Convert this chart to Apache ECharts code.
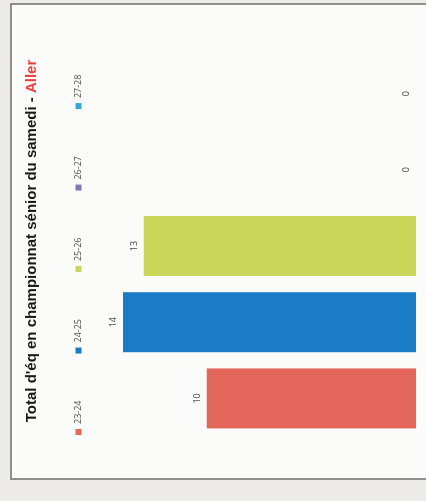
<!DOCTYPE html>
<html>
<head>
<meta charset="utf-8">
<script src="https://cdn.jsdelivr.net/npm/echarts@6/dist/echarts.min.js"></script>
<style>
html,body{margin:0;padding:0;width:426px;height:501px;overflow:hidden;background:#ecebe7;}
#frame{position:absolute;left:10px;top:3px;width:470px;height:473px;border:2px solid #8e8e8c;background:#fbfbf9;}
#chart{position:absolute;left:0;top:0;width:474px;height:440px;transform-origin:0 0;transform:translate(11px,478px) rotate(-90deg);}
</style>
</head>
<body>
<div id="frame"></div>
<div id="chart"></div>
<script>
const titleMain = "Total d'éq en championnat sénior du samedi - ";
const titleRed = "Aller";
const categories = ["Total"];
const seasons = ["23-24", "24-25", "25-26", "26-27", "27-28"];
const values = [10, 14, 13, 0, 0];
const colors = ["#e2665a", "#1a7cc6", "#c9d65a", "#8577b3", "#35a6d9"];

const chart = echarts.init(document.getElementById('chart'), null, {renderer: 'canvas'});
const series = seasons.map((s, i) => ({
  name: s,
  type: 'bar',
  data: [values[i]],
  barWidth: 60,
  barGap: '27%',
  itemStyle: {color: colors[i]},
  label: {show: true, position: 'top', distance: 5, color: '#404040', fontSize: 9, fontFamily: 'Open Sans'}
}));
chart.setOption({
  animation: false,
  backgroundColor: 'transparent',
  title: {
    text: '{a|' + titleMain + '}{b|' + titleRed + '}',
    left: 'center',
    top: 8,
    textStyle: {
      rich: {
        a: {fontFamily: 'Liberation Sans', fontWeight: 'bold', fontSize: 15, color: '#1a1a1a'},
        b: {fontFamily: 'Liberation Sans', fontWeight: 'bold', fontSize: 15, color: '#f03c3c'}
      }
    }
  },
  legend: {
    data: seasons,
    left: 38,
    top: 58,
    itemWidth: 6,
    itemHeight: 6,
    itemGap: 47,
    icon: 'rect',
    textStyle: {fontSize: 9, color: '#505050', fontFamily: 'Open Sans'}
  },
  grid: {left: 40, right: 50, top: 91, bottom: 35},
  xAxis: {
    type: 'category',
    data: categories,
    axisLine: {show: false},
    axisTick: {show: false},
    axisLabel: {show: false}
  },
  yAxis: {
    type: 'value',
    min: 0,
    max: 15,
    show: false,
    splitLine: {show: false}
  },
  series: series
});
</script>
</body>
</html>
